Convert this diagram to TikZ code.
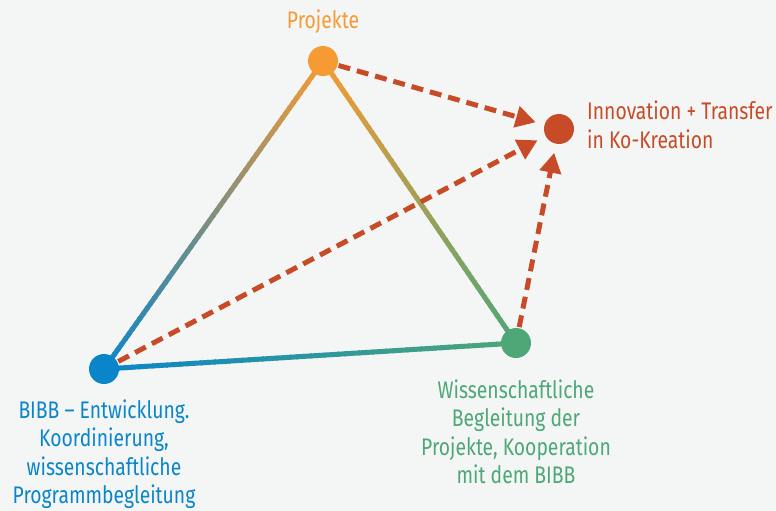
\documentclass[tikz,border=0pt]{standalone}
\usepackage{fontspec}
\setmainfont{Fira Sans}[FakeStretch=0.805]
\usetikzlibrary{arrows.meta,calc,backgrounds}
\definecolor{bg}{HTML}{F4F6F6}
\definecolor{corange}{HTML}{F69A33}
\definecolor{cblue}{HTML}{0A85C9}
\definecolor{cgreen}{HTML}{4EA777}
\definecolor{cred}{HTML}{C84B27}
\tikzset{
  dot/.style={circle, minimum size=30pt, inner sep=0pt},
  lab/.style={font=\fontsize{24}{28.5}\selectfont, align=center, inner sep=0pt},
  dasharrow/.style={draw=cred, line width=5pt, dash pattern=on 12pt off 7pt,
    -{Triangle[length=20pt,width=21pt]}, shorten >=9pt, shorten <=1pt},
  gline/.style={line width=5pt},
}
\newcommand{\gradline}[4]{% from, to, colour from, colour to
  \foreach \i in {0,...,59}{
    \pgfmathsetmacro\ga{\i/60}
    \pgfmathsetmacro\gb{min((\i+1.3)/60,1)}
    \pgfmathsetmacro\gp{100*(\i+0.5)/60}
    \draw[gline, color=#4!\gp!#3] ($(#1)!\ga!(#2)$) -- ($(#1)!\gb!(#2)$);
  }}
\begin{document}
\begin{tikzpicture}[x=1pt,y=-1pt]
\useasboundingbox (0,0) rectangle (776,511);
\node[dot, fill=corange] (p) at (323,61) {};
\node[dot, fill=cblue] (b) at (104,369) {};
\node[dot, fill=cgreen] (w) at (516,343) {};
\node[dot, fill=cred] (i) at (559,129) {};
\begin{scope}[on background layer]
  \fill[bg] (0,0) rectangle (776,511);
  \gradline{p.center}{b.center}{corange}{cblue}
  \gradline{p.center}{w.center}{corange}{cgreen}
  \gradline{b.center}{w.center}{cblue}{cgreen}
\end{scope}
\draw[dasharrow] (p) -- (i);
\draw[dasharrow] (b) -- (i);
\draw[dasharrow] (w) -- (i);
\node[lab, text=corange] (tp) at (323,22) {Projekte};
\node[lab, text=cred, anchor=west, align=left] (ti) at (587,125) {Innovation + Transfer\\in Ko-Kreation};
\node[lab, text=cblue] (tb) at (104,454) {BIBB – Entwicklung.\\Koordinierung,\\wissenschaftliche\\Programmbegleitung};
\node[lab, text=cgreen] (tw) at (516,432) {Wissenschaftliche\\Begleitung der\\Projekte, Kooperation\\mit dem BIBB};
\end{tikzpicture}
\end{document}
